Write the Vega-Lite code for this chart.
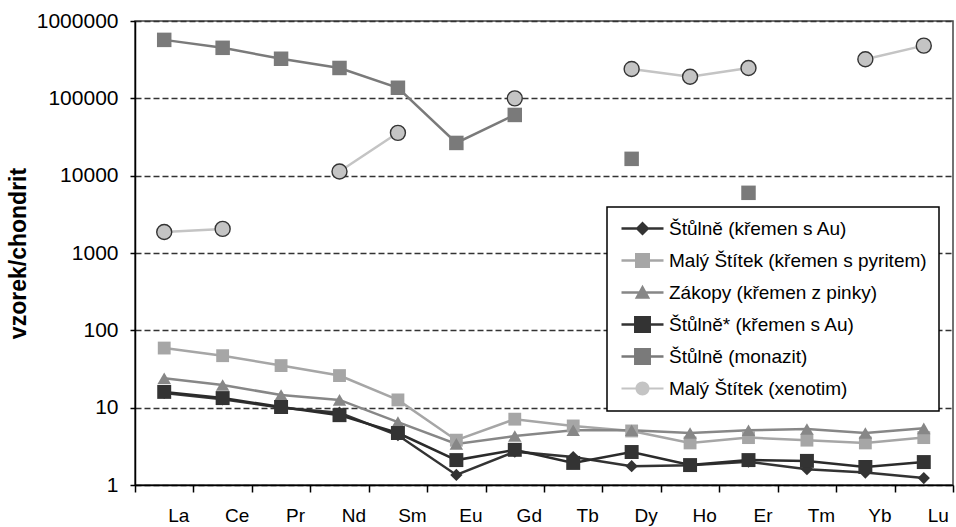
{
  "$schema": "https://vega.github.io/schema/vega-lite/v6.json",
  "width": 818,
  "height": 464,
  "autosize": {"type": "none"},
  "padding": {"left": 135, "top": 21, "right": 3, "bottom": 42},
  "background": "white",
  "config": {"font": "Liberation Sans", "view": {"stroke": "#444", "strokeWidth": 1.5}},
  "data": {"values": [
    {"el": "La", "s": "Štůlně (křemen s Au)", "v": 15.5},
    {"el": "Ce", "s": "Štůlně (křemen s Au)", "v": 12.8},
    {"el": "Pr", "s": "Štůlně (křemen s Au)", "v": 10},
    {"el": "Nd", "s": "Štůlně (křemen s Au)", "v": 8.6},
    {"el": "Sm", "s": "Štůlně (křemen s Au)", "v": 4.4},
    {"el": "Eu", "s": "Štůlně (křemen s Au)", "v": 1.35},
    {"el": "Gd", "s": "Štůlně (křemen s Au)", "v": 2.7},
    {"el": "Tb", "s": "Štůlně (křemen s Au)", "v": 2.3},
    {"el": "Dy", "s": "Štůlně (křemen s Au)", "v": 1.75},
    {"el": "Ho", "s": "Štůlně (křemen s Au)", "v": 1.8},
    {"el": "Er", "s": "Štůlně (křemen s Au)", "v": 2.0},
    {"el": "Tm", "s": "Štůlně (křemen s Au)", "v": 1.6},
    {"el": "Yb", "s": "Štůlně (křemen s Au)", "v": 1.45},
    {"el": "Lu", "s": "Štůlně (křemen s Au)", "v": 1.23},
    {"el": "La", "s": "Malý Štítek (křemen s pyritem)", "v": 59},
    {"el": "Ce", "s": "Malý Štítek (křemen s pyritem)", "v": 47},
    {"el": "Pr", "s": "Malý Štítek (křemen s pyritem)", "v": 35},
    {"el": "Nd", "s": "Malý Štítek (křemen s pyritem)", "v": 26},
    {"el": "Sm", "s": "Malý Štítek (křemen s pyritem)", "v": 12.6},
    {"el": "Eu", "s": "Malý Štítek (křemen s pyritem)", "v": 3.8},
    {"el": "Gd", "s": "Malý Štítek (křemen s pyritem)", "v": 7.1},
    {"el": "Tb", "s": "Malý Štítek (křemen s pyritem)", "v": 5.8},
    {"el": "Dy", "s": "Malý Štítek (křemen s pyritem)", "v": 5.0},
    {"el": "Ho", "s": "Malý Štítek (křemen s pyritem)", "v": 3.5},
    {"el": "Er", "s": "Malý Štítek (křemen s pyritem)", "v": 4.1},
    {"el": "Tm", "s": "Malý Štítek (křemen s pyritem)", "v": 3.8},
    {"el": "Yb", "s": "Malý Štítek (křemen s pyritem)", "v": 3.5},
    {"el": "Lu", "s": "Malý Štítek (křemen s pyritem)", "v": 4.1},
    {"el": "La", "s": "Zákopy (křemen z pinky)", "v": 24},
    {"el": "Ce", "s": "Zákopy (křemen z pinky)", "v": 19.6},
    {"el": "Pr", "s": "Zákopy (křemen z pinky)", "v": 14.6},
    {"el": "Nd", "s": "Zákopy (křemen z pinky)", "v": 12.6},
    {"el": "Sm", "s": "Zákopy (křemen z pinky)", "v": 6.5},
    {"el": "Eu", "s": "Zákopy (křemen z pinky)", "v": 3.4},
    {"el": "Gd", "s": "Zákopy (křemen z pinky)", "v": 4.3},
    {"el": "Tb", "s": "Zákopy (křemen z pinky)", "v": 5.1},
    {"el": "Dy", "s": "Zákopy (křemen z pinky)", "v": 5.1},
    {"el": "Ho", "s": "Zákopy (křemen z pinky)", "v": 4.7},
    {"el": "Er", "s": "Zákopy (křemen z pinky)", "v": 5.1},
    {"el": "Tm", "s": "Zákopy (křemen z pinky)", "v": 5.3},
    {"el": "Yb", "s": "Zákopy (křemen z pinky)", "v": 4.7},
    {"el": "Lu", "s": "Zákopy (křemen z pinky)", "v": 5.4},
    {"el": "La", "s": "Štůlně* (křemen s Au)", "v": 16},
    {"el": "Ce", "s": "Štůlně* (křemen s Au)", "v": 13.3},
    {"el": "Pr", "s": "Štůlně* (křemen s Au)", "v": 10.2},
    {"el": "Nd", "s": "Štůlně* (křemen s Au)", "v": 8},
    {"el": "Sm", "s": "Štůlně* (křemen s Au)", "v": 4.7},
    {"el": "Eu", "s": "Štůlně* (křemen s Au)", "v": 2.1},
    {"el": "Gd", "s": "Štůlně* (křemen s Au)", "v": 2.85},
    {"el": "Tb", "s": "Štůlně* (křemen s Au)", "v": 1.93},
    {"el": "Dy", "s": "Štůlně* (křemen s Au)", "v": 2.67},
    {"el": "Ho", "s": "Štůlně* (křemen s Au)", "v": 1.81},
    {"el": "Er", "s": "Štůlně* (křemen s Au)", "v": 2.1},
    {"el": "Tm", "s": "Štůlně* (křemen s Au)", "v": 2.05},
    {"el": "Yb", "s": "Štůlně* (křemen s Au)", "v": 1.71},
    {"el": "Lu", "s": "Štůlně* (křemen s Au)", "v": 1.98},
    {"el": "La", "s": "Štůlně (monazit)", "v": 570000},
    {"el": "Ce", "s": "Štůlně (monazit)", "v": 450000},
    {"el": "Pr", "s": "Štůlně (monazit)", "v": 325000},
    {"el": "Nd", "s": "Štůlně (monazit)", "v": 247000},
    {"el": "Sm", "s": "Štůlně (monazit)", "v": 137000},
    {"el": "Eu", "s": "Štůlně (monazit)", "v": 26500},
    {"el": "Gd", "s": "Štůlně (monazit)", "v": 61000},
    {"el": "Tb", "s": "Štůlně (monazit)", "v": null},
    {"el": "Dy", "s": "Štůlně (monazit)", "v": 16500},
    {"el": "Ho", "s": "Štůlně (monazit)", "v": null},
    {"el": "Er", "s": "Štůlně (monazit)", "v": 6000},
    {"el": "Tm", "s": "Štůlně (monazit)", "v": null},
    {"el": "Yb", "s": "Štůlně (monazit)", "v": null},
    {"el": "Lu", "s": "Štůlně (monazit)", "v": null},
    {"el": "La", "s": "Malý Štítek (xenotim)", "v": 1870},
    {"el": "Ce", "s": "Malý Štítek (xenotim)", "v": 2050},
    {"el": "Pr", "s": "Malý Štítek (xenotim)", "v": null},
    {"el": "Nd", "s": "Malý Štítek (xenotim)", "v": 11300},
    {"el": "Sm", "s": "Malý Štítek (xenotim)", "v": 35800},
    {"el": "Eu", "s": "Malý Štítek (xenotim)", "v": null},
    {"el": "Gd", "s": "Malý Štítek (xenotim)", "v": 100000},
    {"el": "Tb", "s": "Malý Štítek (xenotim)", "v": null},
    {"el": "Dy", "s": "Malý Štítek (xenotim)", "v": 240000},
    {"el": "Ho", "s": "Malý Štítek (xenotim)", "v": 190000},
    {"el": "Er", "s": "Malý Štítek (xenotim)", "v": 247000},
    {"el": "Tm", "s": "Malý Štítek (xenotim)", "v": null},
    {"el": "Yb", "s": "Malý Štítek (xenotim)", "v": 320000},
    {"el": "Lu", "s": "Malý Štítek (xenotim)", "v": 480000}
  ]},
  "encoding": {
    "x": {
      "field": "el", "type": "nominal",
      "sort": ["La", "Ce", "Pr", "Nd", "Sm", "Eu", "Gd", "Tb", "Dy", "Ho", "Er", "Tm", "Yb", "Lu"],
      "scale": {"type": "band", "paddingInner": 0, "paddingOuter": 0},
      "axis": {
        "title": null, "labelAngle": 0, "grid": false, "tickBand": "extent",
        "labelFontSize": 19, "labelColor": "black", "labelPadding": 14, "labelOffset": 14,
        "tickSize": 7, "tickColor": "black", "tickWidth": 1.5,
        "domainColor": "black", "domainWidth": 1.5
      }
    },
    "y": {
      "field": "v", "type": "quantitative",
      "scale": {"type": "log", "domain": [1, 1000000]},
      "axis": {
        "values": [1, 10, 100, 1000, 10000, 100000, 1000000],
        "format": "d",
        "title": "vzorek/chondrit", "titleFontSize": 23, "titleFontWeight": "bold", "titleColor": "black", "titlePadding": 6,
        "labelFontSize": 21, "labelColor": "black", "labelPadding": 12,
        "tickSize": 5, "tickColor": "black", "tickWidth": 1.5,
        "domainColor": "black", "domainWidth": 1.5,
        "grid": true, "gridColor": "#333", "gridDash": [6, 3], "gridWidth": 1.4
      }
    }
  },
  "layer": [
    {
      "mark": {"type": "line", "strokeWidth": 2.5, "invalid": "break-paths-filter-domains"},
      "encoding": {
        "stroke": {
          "field": "s", "type": "nominal", "legend": null,
          "scale": {
            "domain": ["Štůlně (křemen s Au)", "Malý Štítek (křemen s pyritem)", "Zákopy (křemen z pinky)", "Štůlně* (křemen s Au)", "Štůlně (monazit)", "Malý Štítek (xenotim)"],
            "range": ["#333333", "#a6a6a6", "#878787", "#2b2b2b", "#7a7a7a", "#c4c4c4"]
          }
        },
        "order": {"value": null}
      }
    },
    {
      "mark": {"type": "point", "filled": true, "opacity": 1, "stroke": "#333333"},
      "encoding": {
        "shape": {
          "field": "s", "type": "nominal", "legend": null,
          "scale": {
            "domain": ["Štůlně (křemen s Au)", "Malý Štítek (křemen s pyritem)", "Zákopy (křemen z pinky)", "Štůlně* (křemen s Au)", "Štůlně (monazit)", "Malý Štítek (xenotim)"],
            "range": ["diamond", "square", "triangle-up", "square", "square", "circle"]
          }
        },
        "fill": {
          "field": "s", "type": "nominal", "legend": null,
          "scale": {
            "domain": ["Štůlně (křemen s Au)", "Malý Štítek (křemen s pyritem)", "Zákopy (křemen z pinky)", "Štůlně* (křemen s Au)", "Štůlně (monazit)", "Malý Štítek (xenotim)"],
            "range": ["#333333", "#a6a6a6", "#878787", "#333333", "#7a7a7a", "#c4c4c4"]
          }
        },
        "size": {
          "field": "s", "type": "ordinal", "legend": null,
          "scale": {
            "domain": ["Štůlně (křemen s Au)", "Malý Štítek (křemen s pyritem)", "Zákopy (křemen z pinky)", "Štůlně* (křemen s Au)", "Štůlně (monazit)", "Malý Štítek (xenotim)"],
            "range": [150, 225, 190, 289, 289, 196]
          }
        },
        "strokeWidth": {
          "condition": {"test": "datum.s === 'Malý Štítek (xenotim)'", "value": 1.4},
          "value": 0
        }
      }
    },
    {
      "transform": [{"filter": "false"}],
      "mark": {"type": "point", "filled": true, "opacity": 1, "strokeWidth": 0},
      "encoding": {
        "shape": {
          "field": "s", "type": "nominal",
          "scale": {
            "domain": ["Štůlně (křemen s Au)", "Malý Štítek (křemen s pyritem)", "Zákopy (křemen z pinky)", "Štůlně* (křemen s Au)", "Štůlně (monazit)", "Malý Štítek (xenotim)"],
            "range": [
              "M-1,-0.18H5V0.18H-1ZM2,-1L3,0L2,1L1,0Z",
              "M-1,-0.18H5V0.18H-1ZM0.93,-1.07H3.07V1.07H0.93Z",
              "M-1,-0.18H5V0.18H-1ZM2,-1.1L3.1,0.9H0.9Z",
              "M-1,-0.18H5V0.18H-1ZM0.79,-1.21H3.21V1.21H0.79Z",
              "M-1,-0.18H5V0.18H-1ZM0.79,-1.21H3.21V1.21H0.79Z",
              "M-1,-0.14H5V0.14H-1ZM3,0A1,1 0 1,1 1,0A1,1 0 1,1 3,0Z"
            ]
          },
          "legend": {
            "title": null, "orient": "none", "legendX": 472, "legendY": 186,
            "symbolSize": 196, "symbolStrokeWidth": 0, "symbolOpacity": 1,
            "labelFontSize": 19, "labelColor": "black", "labelLimit": 400, "labelOffset": 31,
            "padding": 12, "rowPadding": 12,
            "strokeColor": "black", "fillColor": "white",
            "encode": {"legend": {"update": {"strokeWidth": {"value": 1.5}}}}
          }
        },
        "fill": {
          "field": "s", "type": "nominal",
          "scale": {
            "domain": ["Štůlně (křemen s Au)", "Malý Štítek (křemen s pyritem)", "Zákopy (křemen z pinky)", "Štůlně* (křemen s Au)", "Štůlně (monazit)", "Malý Štítek (xenotim)"],
            "range": ["#333333", "#a6a6a6", "#878787", "#333333", "#7a7a7a", "#c4c4c4"]
          },
          "legend": {
            "title": null, "orient": "none", "legendX": 472, "legendY": 186,
            "symbolSize": 196, "symbolStrokeWidth": 0, "symbolOpacity": 1,
            "labelFontSize": 19, "labelColor": "black", "labelLimit": 400, "labelOffset": 31,
            "padding": 12, "rowPadding": 12,
            "strokeColor": "black", "fillColor": "white",
            "encode": {"legend": {"update": {"strokeWidth": {"value": 1.5}}}}
          }
        }
      }
    }
  ],
  "resolve": {"scale": {"shape": "independent", "fill": "independent"}}
}
